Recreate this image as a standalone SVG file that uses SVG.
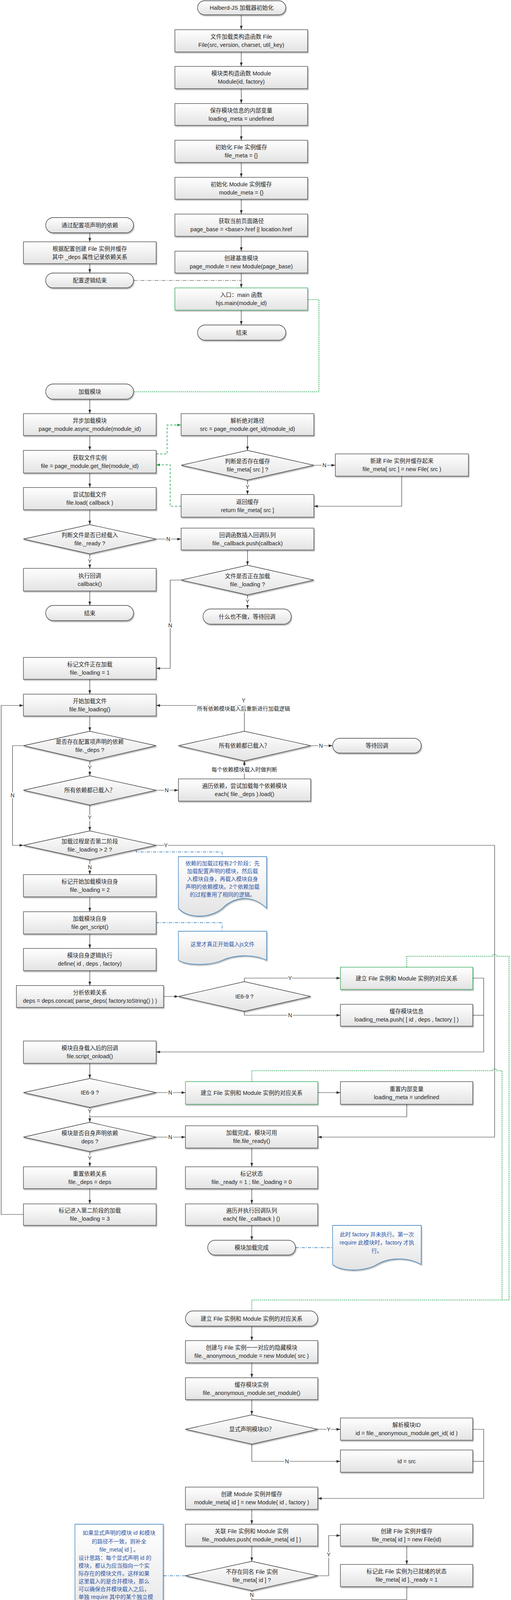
<svg xmlns="http://www.w3.org/2000/svg" width="1309" height="4169" viewBox="0 0 1309 4169">
<defs>
<linearGradient id="g" x1="0" y1="0" x2="0" y2="1"><stop offset="0" stop-color="#ffffff"/><stop offset="1" stop-color="#e3e3e3"/></linearGradient>
<filter id="sh" x="-5%" y="-10%" width="115%" height="140%"><feDropShadow dx="2" dy="3" stdDeviation="1.2" flood-color="#000" flood-opacity="0.28"/></filter>
<marker id="ar" viewBox="0 0 10 7" refX="10" refY="3.5" markerWidth="10" markerHeight="7" markerUnits="userSpaceOnUse" orient="auto"><path d="M0,0 L10,3.5 L0,7 Z" fill="#333"/></marker>
<marker id="ag" viewBox="0 0 10 7" refX="10" refY="3.5" markerWidth="10" markerHeight="7" markerUnits="userSpaceOnUse" orient="auto"><path d="M0,0 L10,3.5 L0,7 Z" fill="#1fa34a"/></marker>
<style>
.b{fill:url(#g);stroke:#3f3f3f;stroke-width:1.3;filter:url(#sh)}
.gb{fill:url(#g);stroke:#2aa24f;stroke-width:1.3;filter:url(#sh)}
.nt{fill:url(#g);stroke:#2b78b8;stroke-width:1.3;filter:url(#sh)}
text{font-family:"Liberation Sans","Noto Sans CJK SC",sans-serif;font-size:14.5px;fill:#262626;text-anchor:middle;dominant-baseline:central}
.ntx{fill:#2f55a4;font-size:14px}
.l{text-anchor:start}
.c{fill:none;stroke:#3a3a3a;stroke-width:1.2}
.a{marker-end:url(#ar)}
.gd{fill:none;stroke:#1fa34a;stroke-width:1.6;stroke-dasharray:3 2}
.gd2{fill:none;stroke:#1fa34a;stroke-width:1.5;stroke-dasharray:6 4;marker-end:url(#ag)}
.dd{fill:none;stroke:#333;stroke-width:1.2;stroke-dasharray:10 3 2 3}
.bd{fill:none;stroke:#2b78b8;stroke-width:1.3;stroke-dasharray:8 3 2 3}
.yn{font-size:14px;stroke:#fff;stroke-width:6;paint-order:stroke;stroke-linejoin:round}
</style>
</defs>

<g id="connectors">
<path class="c a" d="M618,38 V76"/>
<path class="c a" d="M618,133 V170"/>
<path class="c a" d="M618,227 V265"/>
<path class="c a" d="M618,321 V359"/>
<path class="c a" d="M618,416 V454"/>
<path class="c a" d="M618,510 V548"/>
<path class="c a" d="M618,605 V643"/>
<path class="c a" d="M618,699 V737"/>
<path class="c a" d="M618,794 V832"/>
<path class="c a" d="M230,596 V619"/>
<path class="c a" d="M230,675 V699"/>
<path class="dd" d="M342,718 H618"/>
<path class="gd" d="M788,767 H817 V1003 H342"/>

<path class="c a" d="M230,1022 V1059"/>
<path class="c a" d="M230,1115 V1153"/>
<path class="c a" d="M230,1211 V1248"/>
<path class="c a" d="M230,1305 V1343"/>
<path class="c a" d="M400,1380 H464"/>
<path class="c a" d="M230,1418 V1455"/>
<path class="c a" d="M230,1513 V1550"/>
<path class="c a" d="M634,1115 V1153"/>
<path class="c a" d="M804,1191 H859"/>
<path class="c a" d="M634,1229 V1266"/>
<path class="c a" d="M1029,1219 V1296 H804"/>
<path class="c a" d="M634,1408 V1447"/>
<path class="c a" d="M634,1523 V1559"/>
<path class="c a" d="M464,1485 H436 V1711 H400"/>
<path class="gd2" d="M400,1162 H428 V1088 H464"/>
<path class="gd2" d="M464,1296 H436 V1190 H400"/>

<path class="c a" d="M230,1739 V1777"/>
<path class="c a" d="M230,1833 V1872"/>
<path class="c a" d="M230,1948 V1986"/>
<path class="c a" d="M60,1909 H32 V2164 H60"/>
<path class="c a" d="M400,2023 H457"/>
<path class="c a" d="M230,2061 V2127"/>
<path class="c a" d="M626,1994 V1948"/>
<path class="c a" d="M796,1909 H852"/>
<path class="c a" d="M626,1872 V1806 H400"/>
<path class="c a" d="M400,2164 H1267 V2911 H814"/>
<path class="c a" d="M230,2201 V2239"/>
<path class="bd" d="M349,2176 V2181 H569 V2193"/>
<path class="c a" d="M230,2296 V2334"/>
<path class="bd" d="M400,2362 H569 V2384"/>
<path class="c a" d="M230,2391 V2428"/>
<path class="c a" d="M230,2485 V2523"/>
<path class="c a" d="M419,2551 H457"/>
<path class="c a" d="M626,2513 V2504 H872"/>
<path class="c a" d="M626,2589 V2599 H872"/>
<path class="c a" d="M1211,2504 H1239 V2693 H400"/>
<path class="c" d="M1211,2599 H1239"/>
<path class="gd" d="M1042,2476 V2448 H1262 A5,5 0 0 1 1272,2448 H1304 V3328 H645 V3356"/>
<path class="c a" d="M230,2722 V2761"/>
<path class="c a" d="M400,2797 H475"/>
<path class="c a" d="M814,2797 H872"/>
<path class="c" d="M1042,2827 V2859 H230"/>
<path class="c a" d="M230,2835 V2873"/>
<path class="gd" d="M645,2769 V2741 H1262 A5,5 0 0 1 1272,2741 H1286 V3328"/>
<path class="c a" d="M400,2911 H475"/>
<path class="c a" d="M230,2948 V2987"/>
<path class="c a" d="M230,3043 V3082"/>
<path class="c a" d="M60,3109 H3 V1806 H60"/>
<path class="c a" d="M645,2939 V2987"/>
<path class="c a" d="M645,3043 V3082"/>
<path class="c a" d="M645,3137 V3175"/>
<path class="bd" d="M757,3194 H852"/>

<path class="c a" d="M645,3395 V3432"/>
<path class="c a" d="M645,3489 V3527"/>
<path class="c a" d="M645,3583 V3622"/>
<path class="c a" d="M814,3659 H872"/>
<path class="c a" d="M645,3697 V3741 H872"/>
<path class="c a" d="M1211,3659 H1239 V3836 H814"/>
<path class="c" d="M1211,3741 H1239"/>
<path class="c a" d="M645,3864 V3902"/>
<path class="c a" d="M645,3958 V3997"/>
<path class="c a" d="M814,4034 H842 V3931 H872"/>
<path class="c a" d="M1042,3958 V4005"/>
<path class="c" d="M1042,4062 V4095 H645"/>
<path class="c a" d="M645,4072 V4109"/>
<path class="bd" d="M475,4034 H418"/>

<text class="yn" x="431" y="1380">N</text>
<text class="yn" x="230" y="1437">Y</text>
<text class="yn" x="831" y="1191">N</text>
<text class="yn" x="634" y="1247">Y</text>
<text class="yn" x="634" y="1540">Y</text>
<text class="yn" x="436" y="1601">N</text>
<text class="yn" x="230" y="1965">Y</text>
<text class="yn" x="32" y="2036">N</text>
<text class="yn" x="427" y="2023">N</text>
<text class="yn" x="230" y="2093">Y</text>
<text class="yn" x="626" y="1970">每个依赖模块载入时做判断</text>
<text class="yn" x="822" y="1909">N</text>
<text class="yn" x="624" y="1793">Y</text>
<text class="yn" x="624" y="1814">所有依赖模块载入后重新进行加载逻辑</text>
<text class="yn" x="425" y="2164">Y</text>
<text class="yn" x="230" y="2220">N</text>
<text class="yn" x="743" y="2504">Y</text>
<text class="yn" x="743" y="2599">N</text>
<text class="yn" x="436" y="2797">N</text>
<text class="yn" x="230" y="2845">Y</text>
<text class="yn" x="436" y="2911">N</text>
<text class="yn" x="230" y="2965">Y</text>
<text class="yn" x="842" y="3659">Y</text>
<text class="yn" x="735" y="3741">N</text>
<text class="yn" x="842" y="3980">Y</text>
<text class="yn" x="645" y="4083">N</text>
</g>

<g id="n-start"><rect class="b" x="506" y="2" width="226" height="36" rx="18"/><text x="619" y="20">Halberd-JS 加载器初始化</text></g>
<g id="n-file-class"><rect class="b" x="448" y="76" width="340" height="57"/><text x="618" y="94">文件加载类构造函数 File</text><text x="618" y="115">File(src, version, charset, util_key)</text></g>
<g id="n-module-class"><rect class="b" x="448" y="170" width="340" height="57"/><text x="618" y="188">模块类构造函数 Module</text><text x="618" y="209">Module(id, factory)</text></g>
<g id="n-loading-meta"><rect class="b" x="448" y="265" width="340" height="56"/><text x="618" y="283">保存模块信息的内部变量</text><text x="618" y="304">loading_meta = undefined</text></g>
<g id="n-file-meta"><rect class="b" x="448" y="359" width="340" height="57"/><text x="618" y="377">初始化 File 实例缓存</text><text x="618" y="398">file_meta = {}</text></g>
<g id="n-module-meta"><rect class="b" x="448" y="454" width="340" height="56"/><text x="618" y="472">初始化 Module 实例缓存</text><text x="618" y="493">module_meta = {}</text></g>
<g id="n-page-base"><rect class="b" x="448" y="548" width="340" height="57"/><text x="618" y="566">获取当前页面路径</text><text x="618" y="587">page_base = &lt;base&gt;.href || location.href</text></g>
<g id="n-page-module"><rect class="b" x="448" y="643" width="340" height="56"/><text x="618" y="661">创建基准模块</text><text x="618" y="682">page_module = new Module(page_base)</text></g>
<g id="n-main"><rect class="gb" x="448" y="737" width="340" height="57"/><text x="618" y="755">入口：main 函数</text><text x="618" y="776">hjs.main(module_id)</text></g>
<g id="n-end1"><rect class="b" x="506" y="832" width="226" height="39" rx="19.5"/><text x="619" y="851.5">结束</text></g>

<g id="n-cfg-start"><rect class="b" x="117" y="557" width="225" height="39" rx="19.5"/><text x="230" y="576.5">通过配置项声明的依赖</text></g>
<g id="n-cfg-box"><rect class="b" x="60" y="619" width="340" height="56"/><text x="230" y="637">根据配置创建 File 实例并缓存</text><text x="230" y="658">其中 _deps 属性记录依赖关系</text></g>
<g id="n-cfg-end"><rect class="b" x="117" y="699" width="225" height="38" rx="19"/><text x="230" y="718">配置逻辑结束</text></g>

<g id="n-load-module"><rect class="b" x="117" y="983" width="225" height="39" rx="19.5"/><text x="230" y="1002.5">加载模块</text></g>
<g id="n-async"><rect class="b" x="60" y="1059" width="340" height="56"/><text x="230" y="1077">异步加载模块</text><text x="230" y="1098">page_module.async_module(module_id)</text></g>
<g id="n-get-file"><rect class="b" x="60" y="1153" width="340" height="58"/><text x="230" y="1172">获取文件实例</text><text x="230" y="1193">file = page_module.get_file(module_id)</text></g>
<g id="n-try-load"><rect class="b" x="60" y="1248" width="340" height="57"/><text x="230" y="1266">尝试加载文件</text><text x="230" y="1287">file.load( callback )</text></g>
<g id="n-is-ready"><polygon class="b" points="230,1343 400,1380 230,1418 60,1380"/><text x="230" y="1370">判断文件是否已经载入</text><text x="230" y="1391">file._ready ?</text></g>
<g id="n-exec-cb"><rect class="b" x="60" y="1455" width="340" height="58"/><text x="230" y="1474">执行回调</text><text x="230" y="1495">callback()</text></g>
<g id="n-end2"><rect class="b" x="117" y="1550" width="225" height="39" rx="19.5"/><text x="230" y="1569.5">结束</text></g>

<g id="n-resolve"><rect class="b" x="464" y="1059" width="340" height="56"/><text x="634" y="1077">解析绝对路径</text><text x="634" y="1098">src = page_module.get_id(module_id)</text></g>
<g id="n-has-cache"><polygon class="b" points="634,1153 804,1191 634,1229 464,1191"/><text x="634" y="1181">判断是否存在缓存</text><text x="634" y="1202">file_meta[ src ] ?</text></g>
<g id="n-new-file"><rect class="b" x="859" y="1162" width="341" height="57"/><text x="1029.5" y="1180">新建 File 实例并缓存起来</text><text x="1029.5" y="1201">file_meta[ src ] = new File( src )</text></g>
<g id="n-return-cache"><rect class="b" x="464" y="1266" width="340" height="58"/><text x="634" y="1285">返回缓存</text><text x="634" y="1306">return file_meta[ src ]</text></g>
<g id="n-push-cb"><rect class="b" x="464" y="1352" width="340" height="56"/><text x="634" y="1370">回调函数插入回调队列</text><text x="634" y="1391">file._callback.push(callback)</text></g>
<g id="n-is-loading"><polygon class="b" points="634,1447 804,1485 634,1523 464,1485"/><text x="634" y="1475">文件是否正在加载</text><text x="634" y="1496">file._loading ?</text></g>
<g id="n-wait"><rect class="b" x="520" y="1559" width="226" height="39" rx="19.5"/><text x="633" y="1578.5">什么也不做，等待回调</text></g>

<g id="n-mark-loading"><rect class="b" x="60" y="1683" width="340" height="56"/><text x="230" y="1701">标记文件正在加载</text><text x="230" y="1722">file._loading = 1</text></g>
<g id="n-file-loading"><rect class="b" x="60" y="1777" width="340" height="56"/><text x="230" y="1795">开始加载文件</text><text x="230" y="1816">file.file_loading()</text></g>
<g id="n-has-deps"><polygon class="b" points="230,1872 400,1909 230,1948 60,1909"/><text x="230" y="1899">是否存在配置项声明的依赖</text><text x="230" y="1920">file._deps ?</text></g>
<g id="n-all-loaded-l"><polygon class="b" points="230,1986 400,2023 230,2061 60,2023"/><text x="230" y="2023">所有依赖都已载入？</text></g>
<g id="n-all-loaded-r"><polygon class="b" points="626,1872 796,1909 626,1948 457,1909"/><text x="626" y="1909">所有依赖都已载入？</text></g>
<g id="n-wait-cb"><rect class="b" x="852" y="1890" width="227" height="38" rx="19"/><text x="965.5" y="1909">等待回调</text></g>
<g id="n-each-deps"><rect class="b" x="457" y="1994" width="339" height="57"/><text x="626.5" y="2012">遍历依赖，尝试加载每个依赖模块</text><text x="626.5" y="2033">each( file._deps ).load()</text></g>
<g id="n-phase2"><polygon class="b" points="230,2127 400,2164 230,2201 60,2164"/><text x="230" y="2154">加载过程是否第二阶段</text><text x="230" y="2175">file._loading &gt; 2 ?</text></g>
<g id="n-note1"><path class="nt" d="M457,2193 H683 V2325 C645,2289 600,2295 570,2325 C540,2351 480,2353 457,2325 Z"/><text class="ntx" x="570" y="2210">依赖的加载过程有2个阶段：先</text><text class="ntx" x="570" y="2230">加载配置声明的模块，然后载</text><text class="ntx" x="570" y="2250">入模块自身，再载入模块自身</text><text class="ntx" x="570" y="2270">声明的依赖模块。2个依赖加载</text><text class="ntx" x="570" y="2290">的过程重用了相同的逻辑。</text></g>
<g id="n-mark-self"><rect class="b" x="60" y="2239" width="340" height="57"/><text x="230" y="2257">标记开始加载模块自身</text><text x="230" y="2278">file._loading = 2</text></g>
<g id="n-get-script"><rect class="b" x="60" y="2334" width="340" height="57"/><text x="230" y="2352">加载模块自身</text><text x="230" y="2373">file.get_script()</text></g>
<g id="n-note2"><path class="nt" d="M457,2384 H683 V2458 C645,2441 600,2445 570,2458 C540,2472 480,2473 457,2458 Z"/><text class="ntx" x="570" y="2417">这里才真正开始载入js文件</text></g>
<g id="n-define"><rect class="b" x="60" y="2428" width="340" height="57"/><text x="230" y="2446">模块自身逻辑执行</text><text x="230" y="2467">define( id , deps , factory)</text></g>
<g id="n-parse-deps"><rect class="b" x="42" y="2523" width="377" height="56"/><text x="230.5" y="2541">分析依赖关系</text><text x="230.5" y="2562">deps = deps.concat( parse_deps( factory.toString() ) )</text></g>
<g id="n-ie-r"><polygon class="b" points="626,2513 796,2551 626,2589 457,2551"/><text x="626" y="2551">IE6-9 ?</text></g>
<g id="n-bind1"><rect class="gb" x="872" y="2476" width="339" height="57"/><text x="1041.5" y="2504.5">建立 File 实例和 Module 实例的对应关系</text></g>
<g id="n-cache-info"><rect class="b" x="872" y="2571" width="339" height="56"/><text x="1041.5" y="2589">缓存模块信息</text><text x="1041.5" y="2610">loading_meta.push( [ id , deps , factory ] )</text></g>
<g id="n-onload"><rect class="b" x="60" y="2665" width="340" height="57"/><text x="230" y="2683">模块自身载入后的回调</text><text x="230" y="2704">file.script_onload()</text></g>
<g id="n-ie-l"><polygon class="b" points="230,2761 400,2797 230,2835 60,2797"/><text x="230" y="2797">IE6-9 ?</text></g>
<g id="n-bind2"><rect class="gb" x="475" y="2769" width="339" height="58"/><text x="644.5" y="2798">建立 File 实例和 Module 实例的对应关系</text></g>
<g id="n-reset-meta"><rect class="b" x="872" y="2769" width="339" height="58"/><text x="1041.5" y="2788">重置内部变量</text><text x="1041.5" y="2809">loading_meta = undefined</text></g>
<g id="n-self-deps"><polygon class="b" points="230,2873 400,2911 230,2948 60,2911"/><text x="230" y="2901">模块是否自身声明依赖</text><text x="230" y="2922">deps ?</text></g>
<g id="n-file-ready"><rect class="b" x="475" y="2882" width="339" height="57"/><text x="644.5" y="2900">加载完成，模块可用</text><text x="644.5" y="2921">file.file_ready()</text></g>
<g id="n-reset-deps"><rect class="b" x="60" y="2987" width="340" height="56"/><text x="230" y="3005">重置依赖关系</text><text x="230" y="3026">file._deps = deps</text></g>
<g id="n-mark-state"><rect class="b" x="475" y="2987" width="339" height="56"/><text x="644.5" y="3005">标记状态</text><text x="644.5" y="3026">file._ready = 1 ; file._loading = 0</text></g>
<g id="n-mark-phase2"><rect class="b" x="60" y="3082" width="340" height="55"/><text x="230" y="3099">标记进入第二阶段的加载</text><text x="230" y="3120">file._loading = 3</text></g>
<g id="n-each-cb"><rect class="b" x="475" y="3082" width="339" height="55"/><text x="644.5" y="3099">遍历并执行回调队列</text><text x="644.5" y="3120">each( file._callback ) ()</text></g>
<g id="n-loaded"><rect class="b" x="532" y="3175" width="225" height="38" rx="19"/><text x="644.5" y="3194">模块加载完成</text></g>
<g id="n-note3"><path class="nt" d="M852,3137 H1079 V3237 C1040,3216 995,3220 965.5,3237 C936,3255 875,3257 852,3237 Z"/><text class="ntx" x="965.5" y="3160">此时 factory 并未执行。第一次</text><text class="ntx" x="965.5" y="3181">require 此模块时，factory 才执</text><text class="ntx" x="965.5" y="3202">行。</text></g>

<g id="n-bind3"><rect class="b" x="475" y="3356" width="339" height="39" rx="19.5"/><text x="644.5" y="3375.5">建立 File 实例和 Module 实例的对应关系</text></g>
<g id="n-anon"><rect class="b" x="475" y="3432" width="339" height="57"/><text x="644.5" y="3450">创建与 File 实例一一对应的隐藏模块</text><text x="644.5" y="3471">file._anonymous_module = new Module( src )</text></g>
<g id="n-set-module"><rect class="b" x="475" y="3527" width="339" height="56"/><text x="644.5" y="3545">缓存模块实例</text><text x="644.5" y="3566">file._anonymous_module.set_module()</text></g>
<g id="n-explicit"><polygon class="b" points="645,3622 814,3659 645,3697 475,3659"/><text x="645" y="3659">显式声明模块ID？</text></g>
<g id="n-parse-id"><rect class="b" x="872" y="3630" width="339" height="57"/><text x="1041.5" y="3648">解析模块ID</text><text x="1041.5" y="3669">id = file._anonymous_module.get_id( id )</text></g>
<g id="n-id-src"><rect class="b" x="872" y="3712" width="339" height="57"/><text x="1041.5" y="3740.5">id = src</text></g>
<g id="n-create-module"><rect class="b" x="475" y="3807" width="339" height="57"/><text x="644.5" y="3825">创建 Module 实例并缓存</text><text x="644.5" y="3846">module_meta[ id ] = new Module( id , factory )</text></g>
<g id="n-link"><rect class="b" x="475" y="3902" width="339" height="56"/><text x="644.5" y="3920">关联 File 实例和 Module 实例</text><text x="644.5" y="3941">file._modules.push( module_meta[ id ] )</text></g>
<g id="n-create-file"><rect class="b" x="872" y="3902" width="339" height="56"/><text x="1041.5" y="3920">创建 File 实例并缓存</text><text x="1041.5" y="3941">file_meta[ id ] = new File(id)</text></g>
<g id="n-no-file"><polygon class="b" points="645,3997 814,4034 645,4072 475,4034"/><text x="645" y="4024">不存在同名 File 实例</text><text x="645" y="4045">file_meta[ id ] ?</text></g>
<g id="n-mark-ready"><rect class="b" x="872" y="4005" width="339" height="57"/><text x="1041.5" y="4023">标记此 File 实例为已就绪的状态</text><text x="1041.5" y="4044">file_meta[ id ]._ready = 1</text></g>
<g id="n-done"><rect class="b" x="532" y="4109" width="225" height="38" rx="19"/><text x="644.5" y="4128">对应关系建立完成</text></g>
<g id="n-note4"><path class="nt" d="M192,3902 H418 V4148 C380,4121 335,4126 305,4148 C276,4171 215,4173 192,4148 Z"/>
<text class="ntx" x="305" y="3924">如果显式声明的模块 id 和模块</text>
<text class="ntx" x="305" y="3946">的路径不一致，则补全</text>
<text class="ntx" x="305" y="3967">file_meta[ id ] 。</text>
<text class="ntx l" x="201" y="3988">设计思路：每个显式声明 id 的</text>
<text class="ntx l" x="201" y="4008">模块，都认为应当指向一个实</text>
<text class="ntx l" x="201" y="4028">际存在的模块文件。这样如果</text>
<text class="ntx l" x="201" y="4048">这里载入的是合并模块，那么</text>
<text class="ntx l" x="201" y="4068">可以确保合并模块载入之后，</text>
<text class="ntx l" x="201" y="4088">单独 require 其中的某个独立模</text>
<text class="ntx l" x="201" y="4108">块时，不会出现多余的请求。</text></g>
</svg>
